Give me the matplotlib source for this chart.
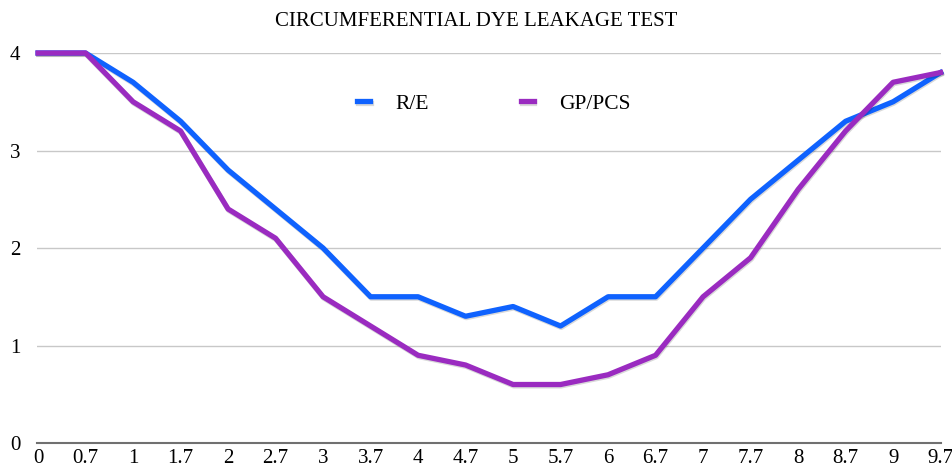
import matplotlib
matplotlib.use("Agg")
import matplotlib.pyplot as plt
import matplotlib.patheffects as pe

# data
labels = ["0", "0.7", "1", "1.7", "2", "2.7", "3", "3.7", "4", "4.7",
          "5", "5.7", "6", "6.7", "7", "7.7", "8", "8.7", "9", "9.7"]
re_vals = [4, 4, 3.7, 3.3, 2.8, 2.4, 2.0, 1.5, 1.5, 1.3,
           1.4, 1.2, 1.5, 1.5, 2.0, 2.5, 2.9, 3.3, 3.5, 3.8]
gp_vals = [4, 4, 3.5, 3.2, 2.4, 2.1, 1.5, 1.2, 0.9, 0.8,
           0.6, 0.6, 0.7, 0.9, 1.5, 1.9, 2.6, 3.2, 3.7, 3.8]

plt.rcParams['font.family'] = ['Liberation Serif', 'DejaVu Serif']

fig = plt.figure(figsize=(9.52, 4.68), dpi=100)
ax = fig.add_axes([0.039, 0.0534, 0.949, 0.8333])

x = list(range(len(labels)))
shadow = [pe.SimpleLineShadow(offset=(0.5, -1), alpha=0.15), pe.Normal()]
ax.plot(x, re_vals, color="#0F62FE", lw=3.8, label="R/E", clip_on=False,
        path_effects=shadow, zorder=3)
ax.plot(x, gp_vals, color="#9A2BC0", lw=3.8, label="GP/PCS", clip_on=False,
        path_effects=shadow, zorder=3)

ax.set_xlim(-0.02, 19)
ax.set_ylim(0, 4)
ax.set_yticks([0, 1, 2, 3, 4])
ax.set_xticks(x)
ax.set_xticklabels(labels)
ax.grid(axis="y", color="#c8c8c8", lw=1)
ax.set_axisbelow(True)
for s in ["top", "right", "left"]:
    ax.spines[s].set_visible(False)
ax.spines["bottom"].set_color("#707070")
ax.spines["bottom"].set_linewidth(1.5)
ax.tick_params(length=0, labelsize=15)
ax.tick_params(axis="x", pad=4)
ax.tick_params(axis="y", pad=12)

fig.text(0.5, 0.955, "CIRCUMFERENTIAL DYE LEAKAGE TEST", ha="center",
         va="center", fontsize=15)

ax.legend(loc="center", bbox_to_anchor=(0.519, 0.778),
          bbox_transform=fig.transFigure, ncol=2, frameon=False,
          fontsize=15.5, handlelength=0.6, handletextpad=1.2,
          columnspacing=4.25)

fig.savefig("out.png", dpi=100)
